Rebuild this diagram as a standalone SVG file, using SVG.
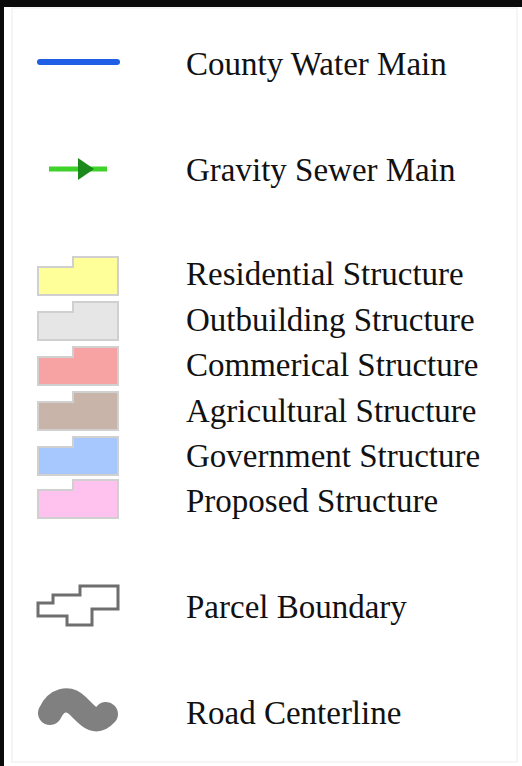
<svg xmlns="http://www.w3.org/2000/svg" width="522" height="766" viewBox="0 0 522 766">
<style>
.lbl{font-family:"Liberation Serif","DejaVu Serif",serif;font-size:33px;fill:#111;}
.bld{stroke:#d0d0d0;stroke-width:2;}
</style>
<defs>
<path id="bshape" d="M0 10 H35 V0 H80 V38 H0 Z"/>
</defs>
<rect x="0" y="0" width="522" height="766" fill="#fff"/>
<rect x="12" y="8" width="505" height="754" fill="none" stroke="#ececec" stroke-width="1"/>
<rect x="0" y="0" width="522" height="7" fill="#0a0a0a"/>
<rect x="0" y="0" width="4" height="766" fill="#0a0a0a"/>

<g id="water-main">
<line x1="40" y1="62" x2="117" y2="62" stroke="#1f5fe6" stroke-width="6" stroke-linecap="round"/>
<text class="lbl" x="186" y="75">County Water Main</text>
</g>
<g id="gravity-sewer">
<line x1="49" y1="169" x2="107" y2="169" stroke="#3fd22a" stroke-width="5"/>
<polygon points="78,158 94,169 78,180" fill="#1b8a1b"/>
<text class="lbl" x="186" y="181">Gravity Sewer Main</text>
</g>
<g id="residential">
<use href="#bshape" x="38" y="257" fill="#ffff99" class="bld"/>
<text class="lbl" x="186" y="285">Residential Structure</text>
</g>
<g id="outbuilding">
<use href="#bshape" x="38" y="302" fill="#e6e6e6" class="bld"/>
<text class="lbl" x="186" y="331">Outbuilding Structure</text>
</g>
<g id="commercial">
<use href="#bshape" x="38" y="347" fill="#f7a3a3" class="bld"/>
<text class="lbl" x="186" y="376">Commerical Structure</text>
</g>
<g id="agricultural">
<use href="#bshape" x="38" y="392" fill="#c9b4aa" class="bld"/>
<text class="lbl" x="186" y="422">Agricultural Structure</text>
</g>
<g id="government">
<use href="#bshape" x="38" y="437" fill="#a7c7ff" class="bld"/>
<text class="lbl" x="186" y="467">Government Structure</text>
</g>
<g id="proposed">
<use href="#bshape" x="38" y="480" fill="#ffc2ee" class="bld"/>
<text class="lbl" x="186" y="512">Proposed Structure</text>
</g>
<g id="parcel">
<polygon points="118,586 118,609 92,609 92,625 67,625 67,616 38,616 38,603 53,603 53,595 80,595 80,586" fill="none" stroke="#6e6e6e" stroke-width="3"/>
<text class="lbl" x="186" y="618">Parcel Boundary</text>
</g>
<g id="road">
<path d="M50 713 C56 700 68 696 78 706 S95 726 106 714" fill="none" stroke="#808080" stroke-width="24" stroke-linecap="round"/>
<text class="lbl" x="186" y="724">Road Centerline</text>
</g>
</svg>
